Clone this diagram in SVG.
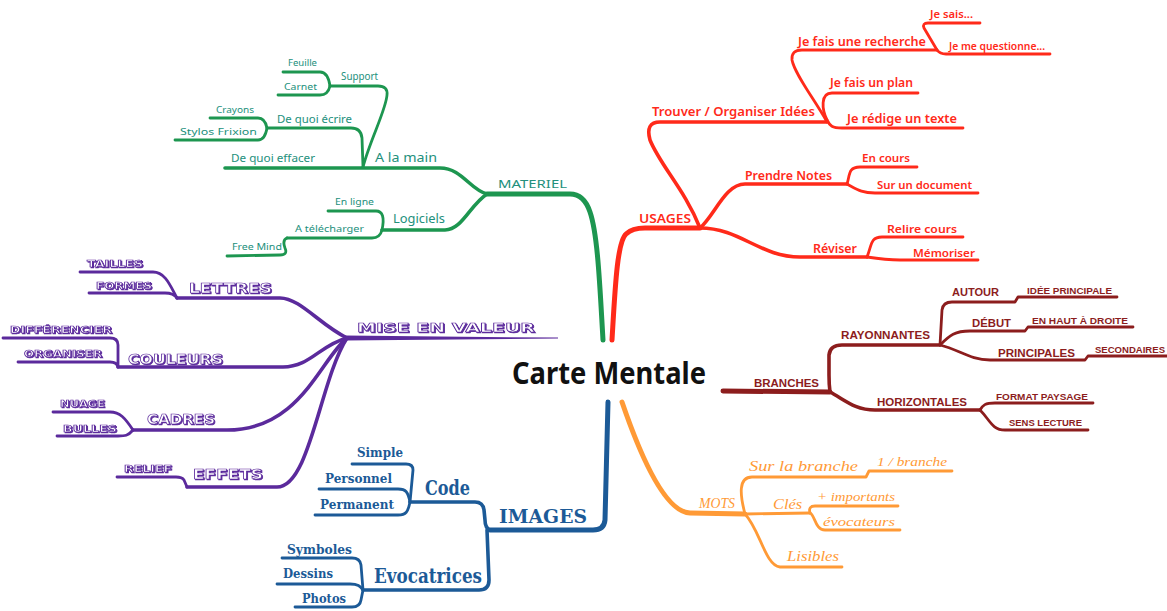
<svg xmlns="http://www.w3.org/2000/svg" width="1167" height="611" viewBox="0 0 1167 611">
<defs>
<style>
.c{fill:none;stroke-linecap:round;stroke-linejoin:round}
.g{stroke:#1d9650}.r{stroke:#ff2a1a}.d{stroke:#8c1d1d}.o{stroke:#ff9a36}.b{stroke:#1c5a97}.p{stroke:#5b2a9c}
.w1{stroke-width:5}.w2{stroke-width:3.6}.w3{stroke-width:2.8}
.tg{font-family:"Noto Sans",sans-serif;fill:#23907c}
.tr{font-family:"Noto Sans",sans-serif;fill:#ff2a1a;font-weight:600}
.td{font-family:"Liberation Sans",sans-serif;font-weight:bold;fill:#8c1d1d}
.to{font-family:"Liberation Serif",serif;font-style:italic;fill:#ff9a36}
.tb{font-family:"DejaVu Serif",serif;font-weight:bold;fill:#1c5a97}
.tp{font-family:"DejaVu Sans",sans-serif;font-weight:bold;fill:#fff;stroke:#5b2a9c;stroke-width:0.7;filter:url(#sh)}
.tc{font-family:"Noto Sans",sans-serif;font-weight:bold;fill:#111}
</style>
<filter id="sh" x="-5%" y="-30%" width="115%" height="170%">
<feOffset in="SourceAlpha" dx="1.4" dy="1.4" result="o"/>
<feFlood flood-color="#5b2a9c"/>
<feComposite in2="o" operator="in" result="s"/>
<feMerge><feMergeNode in="s"/><feMergeNode in="SourceGraphic"/></feMerge>
</filter>
</defs>
<rect width="1167" height="611" fill="#fff"/>
<g id="connectors">
<!-- green -->
<path class="c g w1" d="M603,340 C600,290 598,235 590,212 Q584,194 570,194 L487,194"/>
<path class="c g w2" d="M487,194 C470,190 462,168 440,168 L225,168"/>
<path class="c g w3" d="M363,167 C370,140 386,110 387,95 Q388,86 378,86 L330,86"/>
<path class="c g w3" d="M330,86 Q328,72 320,72 L283,72"/>
<path class="c g w3" d="M330,86 Q328,95 320,95 L278,95"/>
<path class="c g w3" d="M363,167 L362,138 Q361,128 351,128 L267,128"/>
<path class="c g w3" d="M267,128 Q265,118 258,118 L210,118"/>
<path class="c g w3" d="M267,128 Q265,140 258,140 L175,140"/>
<path class="c g w2" d="M487,194 C470,205 462,230 445,230 L382,230"/>
<path class="c g w3" d="M382,230 Q386,211 376,211 L328,211"/>
<path class="c g w3" d="M382,230 Q380,238 372,238 L287,238"/>
<path class="c g w3" d="M287,238 Q282,240 285,248 Q288,255 280,255 L227,256"/>
<!-- red -->
<path class="c r w1" d="M612,340 C615,290 617,242 626,234 Q632,228 645,228 L700,228"/>
<path class="c r w2" d="M700,228 C685,190 660,165 650,140 Q645,122 660,122 L827,122"/>
<path class="c r w3" d="M827,122 C815,100 795,75 792,60 Q791,50 802,50 L937,50"/>
<path class="c r w3" d="M937,50 L924,28 Q922,23 928,23 L980,23"/>
<path class="c r w3" d="M937,50 Q940,54 946,54 L1050,54"/>
<path class="c r w3" d="M827,120 C822,110 820,93 832,93 L918,93"/>
<path class="c r w3" d="M827,120 C830,126 832,128 842,128 L963,128"/>
<path class="c r w2" d="M700,228 C715,215 725,184 745,184 L847,184"/>
<path class="c r w3" d="M847,184 C850,175 848,167 860,167 L917,167"/>
<path class="c r w3" d="M847,184 C858,190 862,193 875,193 L978,193"/>
<path class="c r w2" d="M700,228 C740,228 760,257 800,257 L867,257"/>
<path class="c r w3" d="M867,257 C872,245 870,237 882,237 L963,237"/>
<path class="c r w3" d="M867,257 C880,259 890,260 900,260 L978,260"/>
<!-- dark red -->
<path class="c d w1" d="M723,391 L830,392"/>
<path class="c d w2" d="M830,392 Q829,385 829,375 L829,355 Q830,345 842,345 L940,345"/>
<path class="c d w3" d="M940,345 L942,310 Q943,302 952,302 L1015,302 L1018,297 L1117,297"/>
<path class="c d w3" d="M940,345 C950,335 955,331 970,331 L1025,331 L1028,327 L1133,327"/>
<path class="c d w3" d="M940,345 C960,350 970,360 990,360 L1085,360 L1088,356 L1167,356"/>
<path class="c d w2" d="M830,392 C845,400 855,410 875,410 L980,410"/>
<path class="c d w3" d="M980,410 C983,405 985,403 995,403 L1093,403"/>
<path class="c d w3" d="M980,410 C990,420 992,430 1005,430 L1088,430"/>
<!-- orange -->
<path class="c o w1" d="M622,402 C635,440 662,512 690,513 L745,514"/>
<path class="c o w3" d="M745,514 C740,495 738,477 752,477 L866,477 L869,471 L952,471"/>
<path class="c o w3" d="M745,514 L810,513"/>
<path class="c o w3" d="M810,513 Q808,506 815,506 L898,506"/>
<path class="c o w3" d="M810,513 C815,515 815,530 825,530 L900,530"/>
<path class="c o w3" d="M745,514 C760,530 765,565 780,567 L842,567"/>
<!-- blue -->
<path class="c b w1" d="M608,402 L605,520 Q604,530 593,530 L490,530"/>
<path class="c b w2" d="M490,530 Q485,528 485,520 L484,510 Q483,502 475,502 L410,502"/>
<path class="c b w3" d="M410,502 L413,470 Q413,464 406,464 L352,464"/>
<path class="c b w3" d="M410,502 C408,492 406,489 398,489 L319,489"/>
<path class="c b w3" d="M410,502 C408,512 406,515 398,515 L315,515"/>
<path class="c b w2" d="M487,530 L489,580 Q489,590 479,590 L363,590"/>
<path class="c b w3" d="M363,590 L361,565 Q360,558 352,558 L282,558"/>
<path class="c b w3" d="M363,590 C360,586 358,584 350,584 L277,584"/>
<path class="c b w3" d="M363,590 L361,600 Q360,607 352,607 L295,607"/>
<!-- purple -->
<path fill="#5b2a9c" d="M345,335.6 L558,337.6 L558,338.6 L345,340.4 Z"/>
<path class="c p w2" d="M347,338 C320,325 300,298 280,298 L177,298"/>
<path class="c p w3" d="M177,298 C170,285 165,272 153,272 L80,272"/>
<path class="c p w3" d="M177,298 C175,295 172,293 165,293 L89,293"/>
<path class="c p w2" d="M347,338 C320,345 310,367 283,367 L118,367"/>
<path class="c p w3" d="M118,367 L118,345 Q118,338 110,338 L3,338"/>
<path class="c p w3" d="M118,367 Q117,362 110,362 L18,362"/>
<path class="c p w2" d="M347,338 C320,360 300,430 227,430 L133,430"/>
<path class="c p w3" d="M133,430 C125,418 120,412 110,412 L53,412"/>
<path class="c p w3" d="M133,430 C128,436 125,436 118,436 L57,436"/>
<path class="c p w2" d="M347,338 C320,380 310,487 277,487 L187,487"/>
<path class="c p w3" d="M187,487 L184,480 Q182,477 176,477 L117,477"/>
</g>
<g id="center"><text class="tc" x="512" y="384" font-size="30" textLength="194" lengthAdjust="spacingAndGlyphs">Carte Mentale</text></g>
<!-- green nodes -->
<g id="materiel"><text class="tg" x="498" y="188" font-size="10.5" textLength="69" lengthAdjust="spacingAndGlyphs">MATERIEL</text></g>
<g id="alamain"><text class="tg" x="375" y="162" font-size="13" textLength="62" lengthAdjust="spacingAndGlyphs">A la main</text></g>
<g id="support"><text class="tg" x="341" y="80" font-size="10" textLength="37" lengthAdjust="spacingAndGlyphs">Support</text></g>
<g id="feuille"><text class="tg" x="288" y="66" font-size="9" textLength="29" lengthAdjust="spacingAndGlyphs">Feuille</text></g>
<g id="carnet"><text class="tg" x="284" y="90" font-size="9" textLength="33" lengthAdjust="spacingAndGlyphs">Carnet</text></g>
<g id="ecrire"><text class="tg" x="277" y="123" font-size="10" textLength="75" lengthAdjust="spacingAndGlyphs">De quoi écrire</text></g>
<g id="crayons"><text class="tg" x="216" y="113" font-size="9" textLength="38" lengthAdjust="spacingAndGlyphs">Crayons</text></g>
<g id="stylos"><text class="tg" x="180" y="135" font-size="9.5" textLength="77" lengthAdjust="spacingAndGlyphs">Stylos Frixion</text></g>
<g id="effacer"><text class="tg" x="231" y="162" font-size="10" textLength="84" lengthAdjust="spacingAndGlyphs">De quoi effacer</text></g>
<g id="logiciels"><text class="tg" x="393" y="223" font-size="12" textLength="52" lengthAdjust="spacingAndGlyphs">Logiciels</text></g>
<g id="enligne"><text class="tg" x="335" y="205" font-size="9" textLength="39" lengthAdjust="spacingAndGlyphs">En ligne</text></g>
<g id="telecharger"><text class="tg" x="295" y="232" font-size="9.5" textLength="69" lengthAdjust="spacingAndGlyphs">A télécharger</text></g>
<g id="freemind"><text class="tg" x="232" y="250" font-size="9" textLength="50" lengthAdjust="spacingAndGlyphs">Free Mind</text></g>
<!-- red nodes -->
<g id="usages"><text class="tr" x="639" y="223" font-size="12" textLength="52" lengthAdjust="spacingAndGlyphs">USAGES</text></g>
<g id="trouver"><text class="tr" x="652" y="116" font-size="12" textLength="163" lengthAdjust="spacingAndGlyphs">Trouver / Organiser Idées</text></g>
<g id="recherche"><text class="tr" x="798" y="46" font-size="12" textLength="128" lengthAdjust="spacingAndGlyphs">Je fais une recherche</text></g>
<g id="jesais"><text class="tr" x="930" y="18" font-size="10" textLength="43" lengthAdjust="spacingAndGlyphs">Je sais...</text></g>
<g id="questionne"><text class="tr" x="949" y="50" font-size="10" textLength="96" lengthAdjust="spacingAndGlyphs">Je me questionne...</text></g>
<g id="plan"><text class="tr" x="830" y="87" font-size="12" textLength="83" lengthAdjust="spacingAndGlyphs">Je fais un plan</text></g>
<g id="redige"><text class="tr" x="847" y="123" font-size="12" textLength="110" lengthAdjust="spacingAndGlyphs">Je rédige un texte</text></g>
<g id="notes"><text class="tr" x="745" y="180" font-size="12" textLength="87" lengthAdjust="spacingAndGlyphs">Prendre Notes</text></g>
<g id="encours"><text class="tr" x="862" y="162" font-size="11" textLength="48" lengthAdjust="spacingAndGlyphs">En cours</text></g>
<g id="document"><text class="tr" x="877" y="189" font-size="11" textLength="95" lengthAdjust="spacingAndGlyphs">Sur un document</text></g>
<g id="reviser"><text class="tr" x="813" y="253" font-size="12" textLength="44" lengthAdjust="spacingAndGlyphs">Réviser</text></g>
<g id="relire"><text class="tr" x="887" y="233" font-size="11" textLength="70" lengthAdjust="spacingAndGlyphs">Relire cours</text></g>
<g id="memoriser"><text class="tr" x="913" y="257" font-size="11" textLength="62" lengthAdjust="spacingAndGlyphs">Mémoriser</text></g>
<!-- dark red nodes -->
<g id="branches"><text class="td" x="754" y="387" font-size="10.5" textLength="65" lengthAdjust="spacingAndGlyphs">BRANCHES</text></g>
<g id="rayonnantes"><text class="td" x="841" y="339" font-size="10.5" textLength="89" lengthAdjust="spacingAndGlyphs">RAYONNANTES</text></g>
<g id="autour"><text class="td" x="952" y="296" font-size="10.5" textLength="47" lengthAdjust="spacingAndGlyphs">AUTOUR</text></g>
<g id="ideeprincipale"><text class="td" x="1027" y="294" font-size="9" textLength="85" lengthAdjust="spacingAndGlyphs">IDÉE PRINCIPALE</text></g>
<g id="debut"><text class="td" x="972" y="327" font-size="10.5" textLength="39" lengthAdjust="spacingAndGlyphs">DÉBUT</text></g>
<g id="enhaut"><text class="td" x="1032" y="324" font-size="9" textLength="96" lengthAdjust="spacingAndGlyphs">EN HAUT À DROITE</text></g>
<g id="principales"><text class="td" x="998" y="357" font-size="10.5" textLength="77" lengthAdjust="spacingAndGlyphs">PRINCIPALES</text></g>
<g id="secondaires"><text class="td" x="1095" y="353" font-size="9" textLength="70" lengthAdjust="spacingAndGlyphs">SECONDAIRES</text></g>
<g id="horizontales"><text class="td" x="877" y="406" font-size="10.5" textLength="90" lengthAdjust="spacingAndGlyphs">HORIZONTALES</text></g>
<g id="paysage"><text class="td" x="996" y="400" font-size="9" textLength="92" lengthAdjust="spacingAndGlyphs">FORMAT PAYSAGE</text></g>
<g id="lecture"><text class="td" x="1009" y="426" font-size="9" textLength="73" lengthAdjust="spacingAndGlyphs">SENS LECTURE</text></g>
<!-- orange nodes -->
<g id="mots"><text class="to" x="699" y="508" font-size="14" textLength="36" lengthAdjust="spacingAndGlyphs">MOTS</text></g>
<g id="surbranche"><text class="to" x="749" y="471" font-size="15" textLength="109" lengthAdjust="spacingAndGlyphs">Sur la branche</text></g>
<g id="unbranche"><text class="to" x="877" y="466" font-size="13" textLength="70" lengthAdjust="spacingAndGlyphs">1 / branche</text></g>
<g id="cles"><text class="to" x="773" y="509" font-size="14" textLength="29" lengthAdjust="spacingAndGlyphs">Clés</text></g>
<g id="importants"><text class="to" x="817" y="501" font-size="13" textLength="78" lengthAdjust="spacingAndGlyphs">+ importants</text></g>
<g id="evocateurs"><text class="to" x="823" y="526" font-size="13" textLength="72" lengthAdjust="spacingAndGlyphs">évocateurs</text></g>
<g id="lisibles"><text class="to" x="787" y="561" font-size="15" textLength="52" lengthAdjust="spacingAndGlyphs">Lisibles</text></g>
<!-- blue nodes -->
<g id="images"><text class="tb" x="499" y="523" font-size="19" textLength="88" lengthAdjust="spacingAndGlyphs">IMAGES</text></g>
<g id="code"><text class="tb" x="425" y="495" font-size="20" textLength="45" lengthAdjust="spacingAndGlyphs">Code</text></g>
<g id="simple"><text class="tb" x="357" y="457" font-size="13" textLength="46" lengthAdjust="spacingAndGlyphs">Simple</text></g>
<g id="personnel"><text class="tb" x="325" y="483" font-size="13" textLength="67" lengthAdjust="spacingAndGlyphs">Personnel</text></g>
<g id="permanent"><text class="tb" x="320" y="509" font-size="13" textLength="74" lengthAdjust="spacingAndGlyphs">Permanent</text></g>
<g id="evocatrices"><text class="tb" x="374" y="583" font-size="20" textLength="108" lengthAdjust="spacingAndGlyphs">Evocatrices</text></g>
<g id="symboles"><text class="tb" x="287" y="554" font-size="13" textLength="65" lengthAdjust="spacingAndGlyphs">Symboles</text></g>
<g id="dessins"><text class="tb" x="283" y="578" font-size="13" textLength="50" lengthAdjust="spacingAndGlyphs">Dessins</text></g>
<g id="photos"><text class="tb" x="302" y="603" font-size="13" textLength="44" lengthAdjust="spacingAndGlyphs">Photos</text></g>
<!-- purple nodes -->
<g id="miseenvaleur"><text class="tp" x="357" y="332" font-size="13" textLength="178" lengthAdjust="spacingAndGlyphs">MISE EN VALEUR</text></g>
<g id="lettres"><text class="tp" x="189" y="293" font-size="14" textLength="83" lengthAdjust="spacingAndGlyphs">LETTRES</text></g>
<g id="tailles"><text class="tp" x="87" y="267" font-size="9" textLength="56" lengthAdjust="spacingAndGlyphs">TAILLES</text></g>
<g id="formes"><text class="tp" x="96" y="289" font-size="9" textLength="56" lengthAdjust="spacingAndGlyphs">FORMES</text></g>
<g id="couleurs"><text class="tp" x="128" y="364" font-size="14" textLength="95" lengthAdjust="spacingAndGlyphs">COULEURS</text></g>
<g id="differencier"><text class="tp" x="10" y="333" font-size="9" textLength="102" lengthAdjust="spacingAndGlyphs">DIFFÉRENCIER</text></g>
<g id="organiser"><text class="tp" x="24" y="357" font-size="9" textLength="78" lengthAdjust="spacingAndGlyphs">ORGANISER</text></g>
<g id="cadres"><text class="tp" x="147" y="424" font-size="14" textLength="68" lengthAdjust="spacingAndGlyphs">CADRES</text></g>
<g id="nuage"><text class="tp" x="60" y="407" font-size="9" textLength="45" lengthAdjust="spacingAndGlyphs">NUAGE</text></g>
<g id="bulles"><text class="tp" x="63" y="432" font-size="9" textLength="54" lengthAdjust="spacingAndGlyphs">BULLES</text></g>
<g id="effets"><text class="tp" x="193" y="479" font-size="14" textLength="70" lengthAdjust="spacingAndGlyphs">EFFETS</text></g>
<g id="relief"><text class="tp" x="124" y="472" font-size="9" textLength="48" lengthAdjust="spacingAndGlyphs">RELIEF</text></g>
</svg>
